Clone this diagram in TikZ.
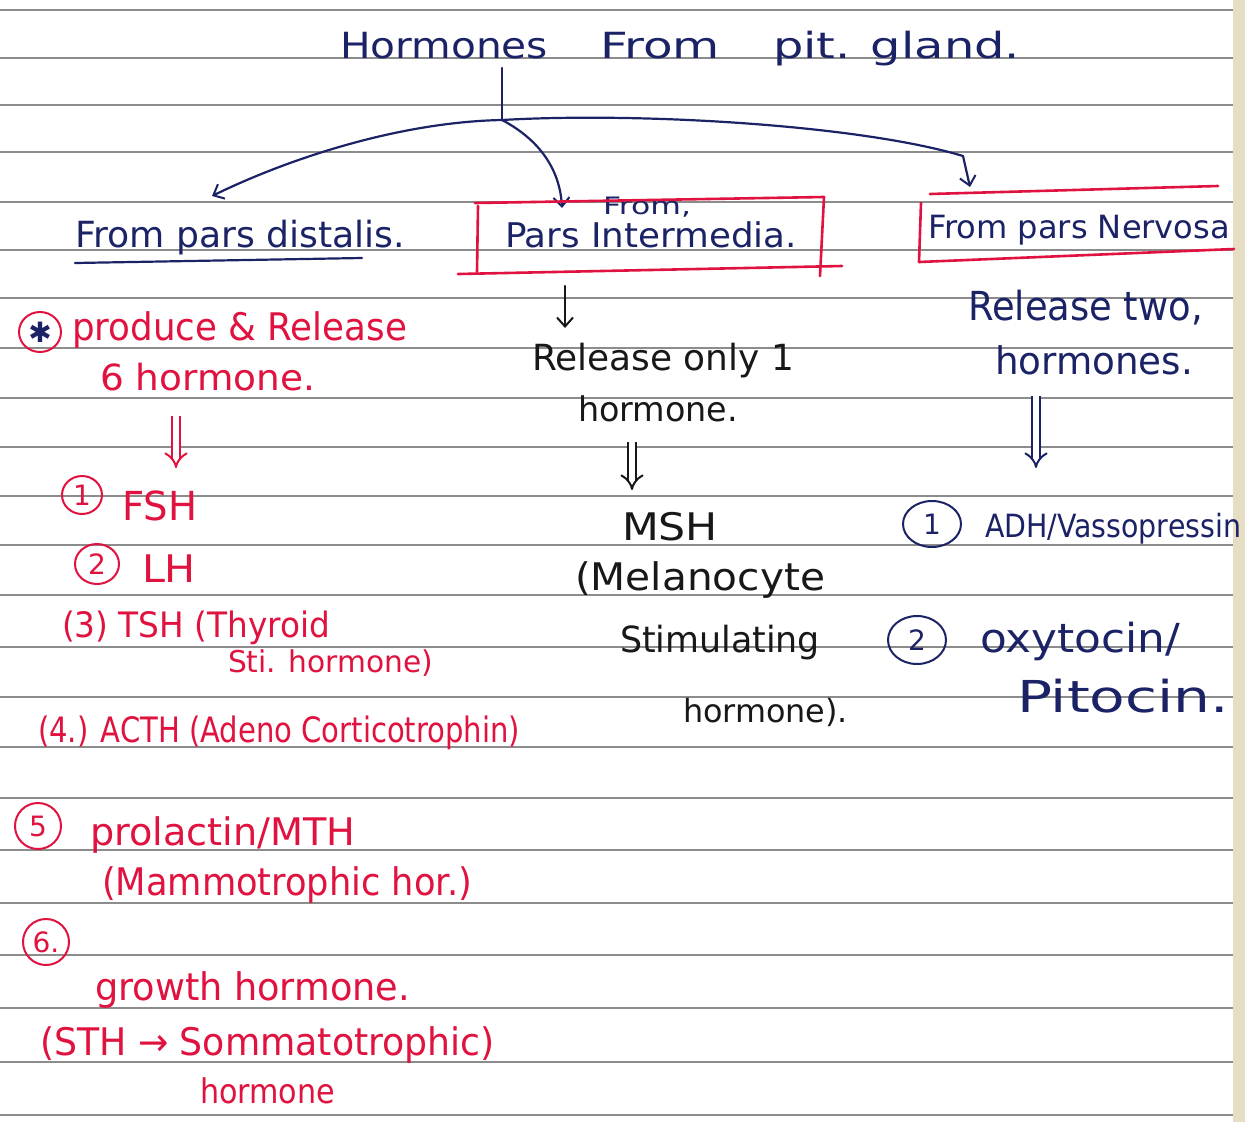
\documentclass[tikz,border=0pt]{standalone}
\usepackage{fontspec}
\setmainfont{DejaVu Sans}
\usepackage{graphicx}
\usetikzlibrary{arrows.meta,shapes.geometric}
\definecolor{blueink}{HTML}{1B2366}
\definecolor{redink}{HTML}{E0123F}
\definecolor{blackink}{HTML}{181818}
\definecolor{ruleline}{HTML}{8C8C8C}
\definecolor{pageedge}{HTML}{E6DEC4}
% width (pt), font size (pt), text: font size fixes the height, width is stretched to fit
\newcommand\fw[3]{\resizebox{#1pt}{\height}{\fontsize{#2}{#2}\selectfont #3}}
\begin{document}
\begin{tikzpicture}[x=1pt,y=-1pt,
  txt/.style={anchor=base west, inner sep=0pt, outer sep=0pt},
  pen/.style={line width=2.2pt, line cap=round, line join=round},
  tip/.style={-{Straight Barb[length=9pt,width=16pt,line width=2pt]}},
  dbl/.style={double=white, double distance=6pt, line width=2pt, -{Implies}},
  numc/.style={draw, ellipse, line width=2pt, inner sep=0pt, minimum width=40pt, minimum height=38pt, font=\fontsize{28}{28}\selectfont},
  boxline/.style={pen, draw=redink, line width=2.6pt}]
\useasboundingbox (0,0) rectangle (1245,1122);
\fill[white] (0,0) rectangle (1245,1122);
\fill[pageedge] (1233,0) rectangle (1245,1122);
\foreach \yy in {10,58,105,152,202,250,298,348,398,447,496,545,595,647,697,747,798,850,903,955,1008,1062,1115}
  \draw[ruleline, line width=1.3pt] (0,\yy) -- (1233,\yy);

% ---------- title and branches ----------
\node[txt, text=blueink] (t1) at (340,58) {\fw{208}{36}{Hormones}};
\node[txt, text=blueink] (t2) at (600,58) {\fw{120}{36}{From}};
\node[txt, text=blueink] (t3) at (773,58) {\fw{247}{36}{pit. gland.}};
\coordinate (stemtop) at (502,68);
\coordinate (br) at (502,120);
\coordinate (tipL) at (212,196);
\coordinate (tipM) at (562,208);
\coordinate (bendR) at (963,156);
\coordinate (tipR) at (970,187);
\draw[pen, blueink] (stemtop) -- (br);
\draw[pen, blueink, tip] (br) .. controls (400,122) and (290,158) .. (tipL);
\draw[pen, blueink, tip] (br) .. controls (540,140) and (560,170) .. (tipM);
\draw[pen, blueink, tip] (br) .. controls (640,112) and (860,125) .. (bendR) -- (tipR);

% ---------- left heading ----------
\node[txt, text=blueink] (hL) at (75,247) {\fw{330}{36}{From pars distalis.}};
\coordinate (ulA) at (75,263);
\coordinate (ulB) at (362,258);
\draw[pen, blueink] (ulA) -- (ulB);

% ---------- middle heading box ----------
\node[txt, text=blueink] (hMa) at (603,214) {\fw{88}{24}{From,}};
\node[txt, text=blueink] (hMb) at (505,247) {\fw{292}{34}{Pars Intermedia.}};
\draw[boxline] (475,203) -- (824,197);
\draw[boxline] (478,206) -- (477,272);
\draw[boxline] (458,274) -- (842,266);
\draw[boxline] (824,197) -- (820,276);

% ---------- right heading box ----------
\node[txt, text=blueink] (hR) at (928,238) {\fw{302}{32}{From pars Nervosa}};
\draw[boxline] (930,194) -- (1218,186);
\draw[boxline] (921,203) -- (919,262);
\draw[boxline] (919,262) -- (1234,249);

% ---------- middle column ----------
\coordinate (mA) at (565,286);
\coordinate (mB) at (565,328);
\draw[pen, blackink, tip] (mA) -- (mB);
\node[txt, text=blackink] (m1) at (532,370) {\fw{262}{36}{Release only 1}};
\node[txt, text=blackink] (m2) at (578,421) {\fw{160}{34}{hormone.}};
\coordinate (mC) at (632,442);
\coordinate (mD) at (632,490);
\draw[dbl, blackink] (mC) -- (mD);
\node[txt, text=blackink] (m3) at (622,540) {\fw{96}{38}{MSH}};
\node[txt, text=blackink] (m4) at (575,590) {\fw{250}{38}{(Melanocyte}};
\node[txt, text=blackink] (m5) at (620,652) {\fw{200}{36}{Stimulating}};
\node[txt, text=blackink] (m6) at (683,722) {\fw{165}{32}{hormone).}};

% ---------- right column ----------
\node[txt, text=blueink] (r1) at (968,320) {\fw{235}{40}{Release two,}};
\node[txt, text=blueink] (r2) at (995,374) {\fw{198}{38}{hormones.}};
\coordinate (rA) at (1036,396);
\coordinate (rB) at (1036,468);
\draw[dbl, blueink] (rA) -- (rB);
\node[numc, draw=blueink, text=blueink, minimum width=58pt, minimum height=46pt] (rc1) at (932,524) {1};
\node[txt, text=blueink] (r3) at (985,537) {\fw{256}{32}{ADH/Vassopressin}};
\node[numc, draw=blueink, text=blueink, minimum width=58pt, minimum height=48pt] (rc2) at (917,640) {2};
\node[txt, text=blueink] (r4) at (980,652) {\fw{200}{40}{oxytocin/}};
\node[txt, text=blueink] (r5) at (1017,712) {\fw{212}{44}{Pitocin.}};

% ---------- left column ----------
\node[numc, draw=redink, text=blueink, minimum width=42pt, minimum height=40pt] (lc0) at (40,332) {✱};
\node[txt, text=redink] (l1) at (72,340) {\fw{335}{38}{produce \& Release}};
\node[txt, text=redink] (l2) at (100,390) {\fw{215}{36}{6 hormone.}};
\coordinate (lA) at (176,416);
\coordinate (lB) at (176,468);
\draw[dbl, redink] (lA) -- (lB);
\node[numc, draw=redink, text=redink] (lc1) at (82,495) {1};
\node[txt, text=redink] (l3) at (122,520) {\fw{75}{40}{FSH}};
\node[numc, draw=redink, text=redink, minimum width=44pt, minimum height=40pt] (lc2) at (97,564) {2};
\node[txt, text=redink] (l4) at (142,582) {\fw{54}{38}{LH}};
\node[txt, text=redink] (l5) at (62,637) {\fw{268}{35}{(3) TSH (Thyroid}};
\node[txt, text=redink] (l6) at (228,672) {\fw{205}{30}{Sti. hormone)}};
\node[txt, text=redink] (l7) at (38,742) {\fw{482}{35}{(4.) ACTH (Adeno Corticotrophin)}};
\node[numc, draw=redink, text=redink, minimum width=46pt, minimum height=46pt] (lc5) at (38,826) {5};
\node[txt, text=redink] (l8) at (90,845) {\fw{265}{38}{prolactin/MTH}};
\node[txt, text=redink] (l9) at (102,895) {\fw{370}{38}{(Mammotrophic hor.)}};
\node[numc, draw=redink, text=redink, minimum width=46pt, minimum height=46pt] (lc6) at (46,942) {6.};
\node[txt, text=redink] (l10) at (95,1000) {\fw{315}{38}{growth hormone.}};
\node[txt, text=redink] (l11) at (40,1055) {\fw{455}{38}{(STH → Sommatotrophic)}};
\node[txt, text=redink] (l12) at (200,1103) {\fw{135}{34}{hormone}};
\end{tikzpicture}
\end{document}
